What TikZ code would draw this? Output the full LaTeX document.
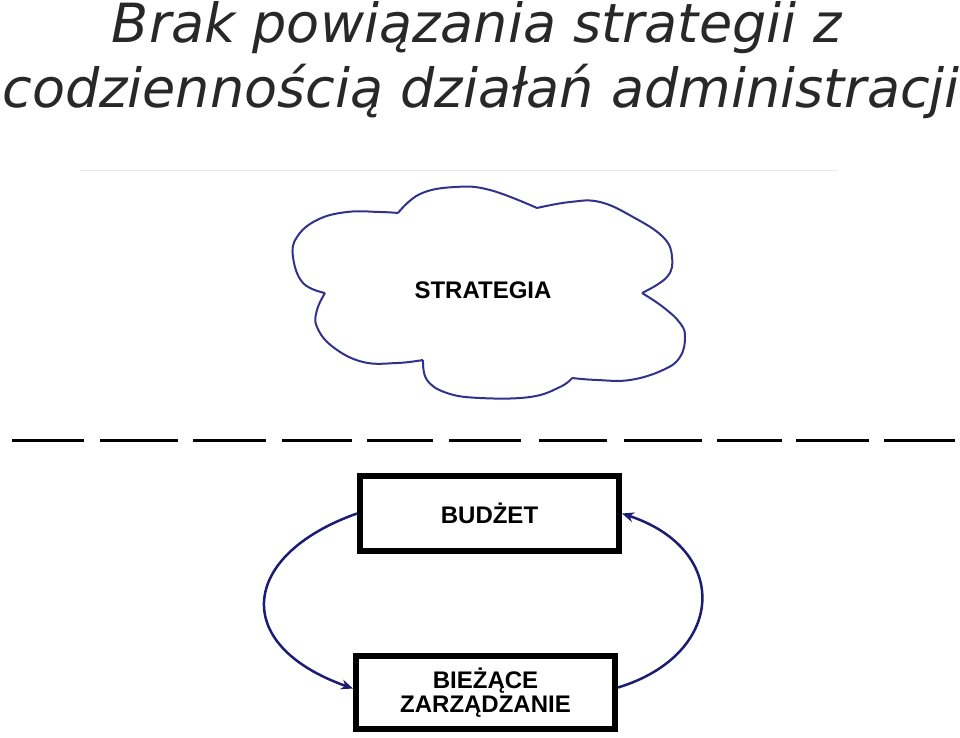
\documentclass[tikz,border=0pt]{standalone}
\usepackage{fontspec}
\setmainfont{DejaVu Sans}
\newfontfamily\boxfont{Liberation Sans}
\usetikzlibrary{arrows.meta}
\definecolor{titlegray}{RGB}{40,40,40}
\definecolor{navy}{RGB}{28,28,115}
\definecolor{cloudblue}{RGB}{50,50,140}
\definecolor{rulegray}{RGB}{232,232,232}
\begin{document}
\begin{tikzpicture}[x=1pt,y=-1pt,
  titletext/.style={anchor=base, inner sep=0pt, text=titlegray,
    font=\fontsize{54}{64}\selectfont\itshape},
  boxnode/.style={draw=black, line width=6pt, fill=white, inner sep=0pt,
    minimum width=259pt, align=center,
    font=\boxfont\bfseries\fontsize{24}{24}\selectfont},
  cloudtext/.style={inner sep=0pt, font=\boxfont\bfseries\fontsize{24}{24}\selectfont},
  cloudline/.style={draw=cloudblue, line width=2pt, line join=round},
  arr/.style={draw=navy, line width=2.5pt, -{Stealth[length=12pt,width=10pt]}},
  dashseg/.style={draw=black, line width=3pt}
]
\useasboundingbox (0,0) rectangle (960,738);
\fill[white] (0,0) rectangle (960,738);

% title
\node[titletext] (t1) at (477,43) {Brak powiązania strategii z};
\node[titletext] (t2) at (481,108) {codziennością działań administracji};

% thin rule
\draw[rulegray, line width=1pt] (80,171) -- (838,171);

% cloud
\draw[cloudline]
  plot[smooth, tension=0.7] coordinates {(398,213) (420,194) (455,187) (490,190) (537,208)}
  plot[smooth, tension=0.7] coordinates {(537,208) (570,202) (600,202) (633,217) (663,237) (672,257) (667,277) (642,293)}
  plot[smooth, tension=0.7] coordinates {(642,293) (663,307) (680,323) (685,337) (680,357) (663,370) (630,380) (597,380) (572,378)}
  plot[smooth, tension=0.7] coordinates {(572,378) (560,387) (530,397) (480,398) (447,393) (427,380) (423,360)}
  plot[smooth, tension=0.7] coordinates {(423,360) (397,363) (363,362) (333,347) (317,327) (317,310) (325,293)}
  plot[smooth, tension=0.7] coordinates {(325,293) (303,283) (293,257) (297,237) (317,220) (347,212) (380,212) (398,213)};
\node[cloudtext] (strategia) at (483,290) {STRATEGIA};

% dashed separator
\foreach \a/\b in {12/84, 100/178, 193/266, 282/352, 367/433, 449/521, 539/607, 624/702, 717/782, 796/869, 884/955}
  \draw[dashseg] (\a,440) -- (\b,440);

% boxes
\node[boxnode, minimum height=75pt] (budzet) at (489.5,513.5) {BUDŻET};
\node[boxnode, minimum height=73pt] (biezace) at (485.5,692.5) {BIEŻĄCE\\ZARZĄDZANIE};

% cycle arrows
\draw[arr] (budzet.west) .. controls (240,555) and (230,645) .. ([yshift=4pt]biezace.west);
\draw[arr] ([yshift=5pt]biezace.east) .. controls (725,655) and (732,550) .. (budzet.east);
\end{tikzpicture}
\end{document}
